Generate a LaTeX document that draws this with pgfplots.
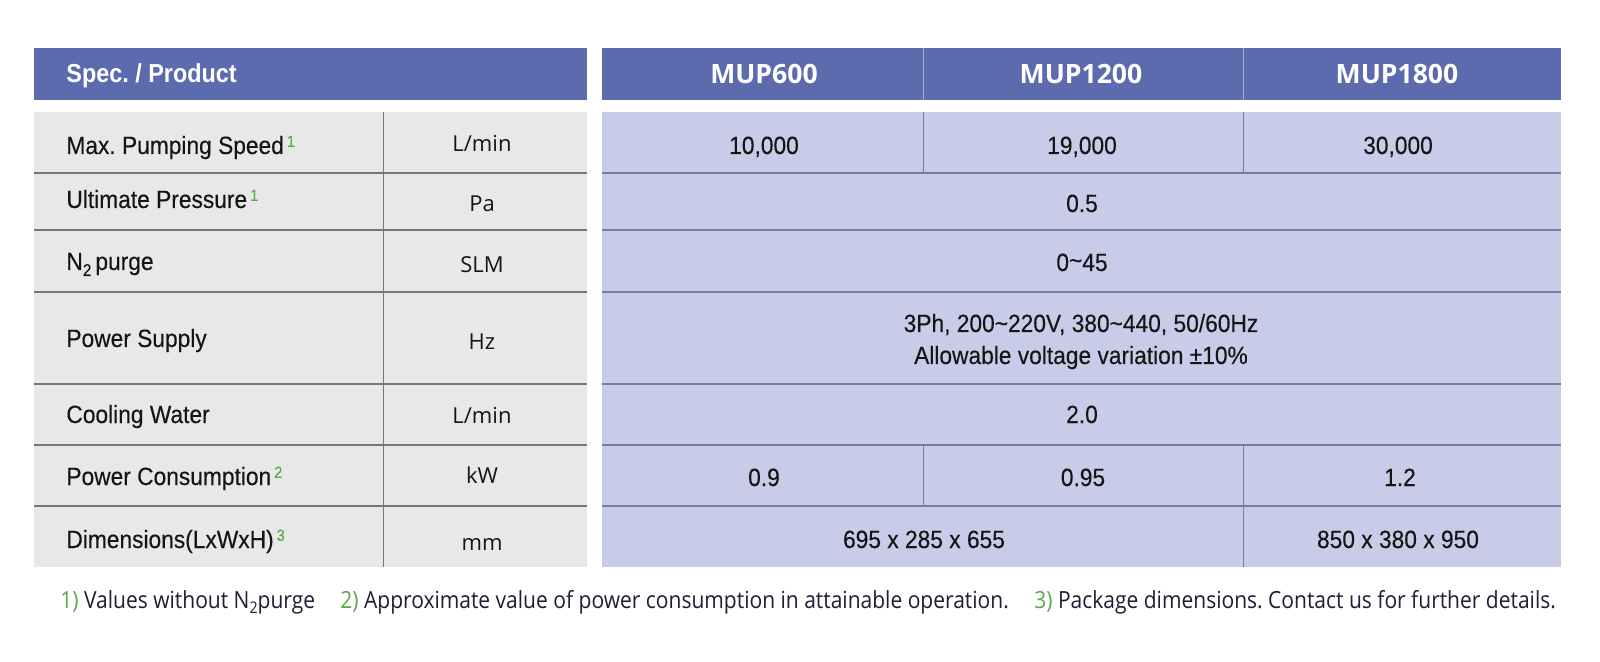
\documentclass[border=0pt]{standalone}
\usepackage{pgfplots}
\pgfplotsset{compat=1.18}
\usepackage{fontspec}
\setmainfont{Liberation Sans}
\newfontfamily\cond[FakeStretch=0.91,FakeBold=0.25]{Liberation Sans}
\newfontfamily\condb[FakeStretch=0.9]{Liberation Sans Bold}
\newfontfamily\hum{Open Sans}
\newfontfamily\foot[FakeStretch=0.89]{Open Sans}
\definecolor{hdr}{HTML}{5B6BAE}
\definecolor{hdrline}{HTML}{A3ACD6}
\definecolor{lbg}{HTML}{E8E8E8}
\definecolor{rbg}{HTML}{C9CCE8}
\definecolor{lline}{HTML}{777777}
\definecolor{rline}{HTML}{767CA8}
\definecolor{grn}{HTML}{5AAA4C}
\definecolor{txt}{HTML}{151515}
\definecolor{ftxt}{HTML}{1E1E36}
\newcommand\rect[5]{\addplot[fill=#5,draw=none,forget plot] coordinates {(#1,#2) (#3,#2) (#3,#4) (#1,#4)};}
\newcommand\hl[4]{\addplot[#4,forget plot] coordinates {(#1,#3) (#2,#3)};}
\newcommand\vl[4]{\addplot[#4,forget plot] coordinates {(#1,#2) (#1,#3)};}
\newcommand\sups[1]{\hspace{1.5pt}\raisebox{3.6pt}{\fontsize{8}{9}\selectfont\color{grn}#1}}
\tikzset{
  lab/.style={anchor=base west,inner sep=0pt,text=txt,font=\cond\fontsize{12.5}{14}\selectfont},
  val/.style={anchor=base,inner sep=0pt,text=txt,font=\cond\fontsize{12.5}{14}\selectfont},
  unit/.style={anchor=base,inner sep=0pt,text=txt,font=\hum\fontsize{11}{13}\selectfont},
  head/.style={anchor=base,inner sep=0pt,text=white,font=\hum\bfseries\fontsize{13.3}{15}\selectfont},
  fn/.style={anchor=base west,inner sep=0pt,text=ftxt,font=\foot\fontsize{11.8}{14}\selectfont},
}
\frenchspacing
\begin{document}
\frenchspacing
\begin{tikzpicture}
\begin{axis}[
  width=800pt, height=331pt, scale only axis,
  xmin=0, xmax=1600, ymin=0, ymax=662, y dir=reverse,
  hide axis, clip=false, no markers,
]
% background
\rect{0}{0}{1600}{662}{white}
% header bands
\rect{34}{48}{587}{100}{hdr}
\rect{602}{48}{1561}{100}{hdr}
\vl{923}{48}{100}{hdrline,line width=0.5pt}
\vl{1243}{48}{100}{hdrline,line width=0.5pt}
% body backgrounds
\rect{34}{112}{587}{567}{lbg}
\rect{602}{112}{1561}{567}{rbg}
% left body lines
\hl{34}{587}{173}{lline,line width=0.7pt}
\hl{34}{587}{230}{lline,line width=0.7pt}
\hl{34}{587}{292}{lline,line width=0.7pt}
\hl{34}{587}{384}{lline,line width=0.7pt}
\hl{34}{587}{445}{lline,line width=0.7pt}
\hl{34}{587}{506}{lline,line width=0.7pt}
\vl{383}{112}{567}{lline,line width=0.5pt}
% right body lines
\hl{602}{1561}{173}{rline,line width=0.7pt}
\hl{602}{1561}{230}{rline,line width=0.7pt}
\hl{602}{1561}{292}{rline,line width=0.7pt}
\hl{602}{1561}{384}{rline,line width=0.7pt}
\hl{602}{1561}{445}{rline,line width=0.7pt}
\hl{602}{1561}{506}{rline,line width=0.7pt}
\vl{923}{112}{173}{rline,line width=0.5pt}
\vl{1243}{112}{173}{rline,line width=0.5pt}
\vl{923}{445}{506}{rline,line width=0.5pt}
\vl{1243}{445}{567}{rline,line width=0.5pt}
% header text
\node[anchor=base west,inner sep=0pt,text=white,font=\condb\fontsize{13}{15}\selectfont] at (axis cs:66,83) {Spec. / Product};
\node[head] at (axis cs:764,84) {MUP600};
\node[head] at (axis cs:1081,84) {MUP1200};
\node[head] at (axis cs:1397,84) {MUP1800};
% row labels
\node[lab] at (axis cs:66,154) {Max. Pumping Speed\sups{1}};
\node[lab] at (axis cs:66,208) {Ultimate Pressure\sups{1}};
\node[lab] at (axis cs:66,270) {N\raisebox{-3pt}{\fontsize{8.5}{9}\selectfont 2}\hspace{2pt}purge};
\node[lab] at (axis cs:66,347) {Power Supply};
\node[lab] at (axis cs:66,423) {Cooling Water};
\node[lab] at (axis cs:66,485) {Power Consumption\sups{2}};
\node[lab] at (axis cs:66,548) {Dimensions(LxWxH)\sups{3}};
% units
\node[unit] at (axis cs:482,152) {L/min};
\node[unit] at (axis cs:482,212) {Pa};
\node[unit] at (axis cs:482,273) {SLM};
\node[unit] at (axis cs:482,350) {Hz};
\node[unit] at (axis cs:482,423) {L/min};
\node[unit] at (axis cs:482,483) {kW};
\node[unit] at (axis cs:482,550) {mm};
% values
\node[val] at (axis cs:764,154) {10,000};
\node[val] at (axis cs:1082,154) {19,000};
\node[val] at (axis cs:1398,154) {30,000};
\node[val] at (axis cs:1082,212) {0.5};
\node[val] at (axis cs:1082,271) {0\raisebox{1pt}{\textasciitilde}45};
\node[val] at (axis cs:1081,332) {3Ph, 200\textasciitilde 220V, 380\textasciitilde 440, 50/60Hz};
\node[val] at (axis cs:1081,364) {Allowable voltage variation ±10\%};
\node[val] at (axis cs:1082,423) {2.0};
\node[val] at (axis cs:764,486) {0.9};
\node[val] at (axis cs:1083,486) {0.95};
\node[val] at (axis cs:1400,486) {1.2};
\node[val] at (axis cs:924,548) {695 x 285 x 655};
\node[val] at (axis cs:1398,548) {850 x 380 x 950};
% footnotes
\node[fn] at (axis cs:60,608) {\textcolor{grn}{1)} Values without N\raisebox{-2.5pt}{\fontsize{8}{9}\selectfont 2}purge};
\node[fn] at (axis cs:340,608) {\textcolor{grn}{2)} Approximate value of power consumption in attainable operation.};
\node[fn] at (axis cs:1034,608) {\textcolor{grn}{3)} Package dimensions. Contact us for further details.};
\end{axis}
\end{tikzpicture}
\end{document}
